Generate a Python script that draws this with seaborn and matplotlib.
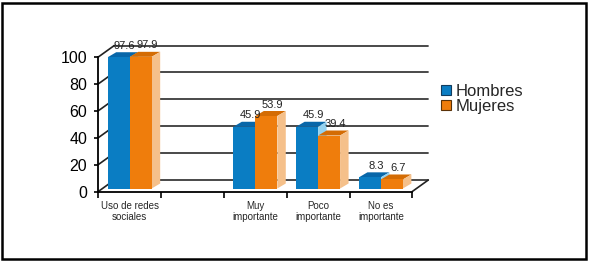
import numpy as np
import pandas as pd
import matplotlib.pyplot as plt
from matplotlib.patches import Polygon, Patch, Rectangle
import seaborn as sns

# datos
categorias = ["Uso de redes\nsociales", "Muy\nimportante", "Poco\nimportante", "No es\nimportante"]
orden = ["Uso de redes\nsociales", " ", "Muy\nimportante", "Poco\nimportante", "No es\nimportante"]
series = ["Hombres", "Mujeres"]
hombres = [97.6, 45.9, 45.9, 8.3]
mujeres = [97.9, 53.9, 39.4, 6.7]
y_ticks = [0, 20, 40, 60, 80, 100]

colores = {"Hombres": "#0a7dc3", "Mujeres": "#ef7d0c"}
tapa = {"Hombres": "#0867a9", "Mujeres": "#d46c04"}
lado = {"Hombres": "#93d2f0", "Mujeres": "#f5c08a"}
borde = {"Hombres": "#123c5e", "Mujeres": "#5a3208"}

sns.set_style("white")
plt.rcParams["font.family"] = ["Liberation Sans", "DejaVu Sans"]

df = pd.DataFrame({
    "cat": categorias * 2,
    "sexo": ["Hombres"] * len(hombres) + ["Mujeres"] * len(mujeres),
    "valor": hombres + mujeres,
})

W, H, DPI = 589, 262, 100
fig = plt.figure(figsize=(W / DPI, H / DPI), dpi=DPI)
ax = fig.add_axes([98.3 / W, 1 - 191.5 / H, 314 / W, 134.5 / H])

sns.barplot(data=df, x="cat", y="valor", hue="sexo", order=orden, hue_order=series,
            palette=colores, width=0.7, saturation=1, errorbar=None, legend=False, ax=ax)
ax.set_xlim(-0.5, 4.5)
ax.set_ylim(0, 100)

# px -> unidades de datos
fx = lambda px: px * 5 / 314
fy = lambda px: px * 100 / 134.5

lift = fy(3)
ddx, ddy = fx(8.5), fy(5)

for k, (cont, s) in enumerate(zip(ax.containers, series)):
    base = 3 + 2 * k
    for bar in cont:
        h = bar.get_height()
        if not np.isfinite(h):
            continue
        bar.set_y(bar.get_y() + lift)
        bar.set_clip_on(False)
        bar.set_zorder(base + 1)
        bar.set_edgecolor("none")
        x0, w, y0 = bar.get_x(), bar.get_width(), bar.get_y()
        top = y0 + h
        ax.add_patch(Polygon([(x0, top), (x0 + w, top), (x0 + w + ddx, top + ddy), (x0 + ddx, top + ddy)],
                             closed=True, fc=tapa[s], ec="none", zorder=base, clip_on=False))
        ax.add_patch(Polygon([(x0 + w, y0), (x0 + w + ddx, y0 + ddy), (x0 + w + ddx, top + ddy), (x0 + w, top)],
                             closed=True, fc=lado[s], ec="none", zorder=base, clip_on=False))
        ax.text(x0 + w / 2 + fx(6), top + ddy + fy(1.5), f"{h:.1f}", ha="center", va="bottom",
                fontsize=8, color="#222222", zorder=10, clip_on=False)

# pared del fondo y rejilla
dxb, dyb = fx(16), fy(11.5)
for v in y_ticks:
    ax.plot([-0.5 + dxb, 4.5 + dxb], [v + dyb, v + dyb], color="#3a3a3a", lw=1.3, zorder=1, clip_on=False)
    ax.plot([-0.5, -0.5 + dxb], [v, v + dyb], color="#222222", lw=1.2, zorder=1, clip_on=False)
ax.plot([4.5, 4.5 + dxb], [0, dyb], color="#222222", lw=1.2, zorder=1, clip_on=False)

for sp in ["top", "right"]:
    ax.spines[sp].set_visible(False)
for sp in ["left", "bottom"]:
    ax.spines[sp].set_color("black")
    ax.spines[sp].set_linewidth(1.3)

ax.set_xlabel("")
ax.set_ylabel("")
ax.set_yticks(y_ticks)
ax.tick_params(axis="y", left=True, direction="out", length=3, width=1.2, labelsize=11.5, pad=5, colors="black")
ax.set_xticks(range(len(orden)))
ax.set_xticklabels(orden, fontsize=7, linespacing=1.1)
ax.tick_params(axis="x", which="major", bottom=False, length=0, pad=7)
ax.set_xticks(np.arange(-0.5, 5, 1), minor=True)
ax.tick_params(axis="x", which="minor", bottom=True, direction="out", length=4.5, width=1.2, color="black")
ax.patch.set_alpha(0)

handles = [Patch(fc=colores[s], ec=borde[s], lw=0.8, label=s) for s in series]
fig.legend(handles=handles, loc="upper left", bbox_to_anchor=(441 / W, 1 - 84 / H), frameon=False,
           fontsize=12, handlelength=0.6, handleheight=0.6, handletextpad=0.3, labelspacing=0.0,
           borderpad=0, borderaxespad=0)

fig.add_artist(Rectangle((2 / W, 3 / H), 584 / W, 256 / H, transform=fig.transFigure,
                         fill=False, ec="black", lw=1.8))

fig.savefig("out.png", dpi=DPI)
